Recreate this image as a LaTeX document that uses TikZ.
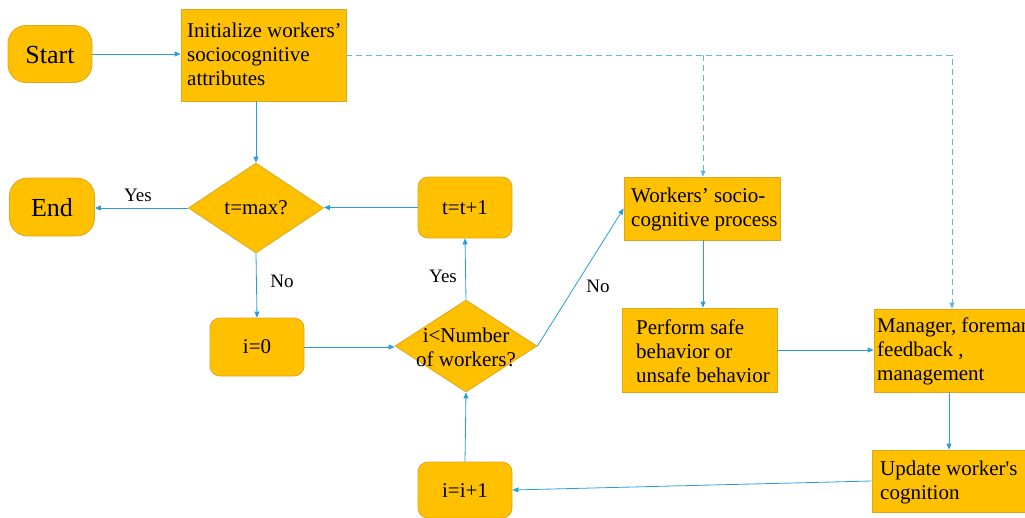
\documentclass[tikz,border=0pt]{standalone}
\usepackage{fontspec}
\setmainfont{Liberation Serif}
\newfontfamily\tnr{Liberation Serif}
\usetikzlibrary{shapes.geometric,arrows.meta}
\definecolor{boxfill}{RGB}{255,192,0}
\definecolor{boxline}{RGB}{222,168,30}
\definecolor{conn}{RGB}{40,158,216}
\definecolor{dconn}{RGB}{95,182,232}
\tikzset{
  box/.style={draw=boxline,fill=boxfill,line width=0.8pt,inner sep=0pt},
  stadium/.style={box,rounded corners=18pt},
  rbox/.style={box,rounded corners=10pt},
  txt/.style={font=\tnr\fontsize{21}{24}\selectfont,align=left,inner sep=0pt,anchor=west},
  ctxt/.style={font=\tnr\fontsize{21}{24}\selectfont,align=center,inner sep=0pt},
  big/.style={font=\tnr\fontsize{26}{30}\selectfont,inner sep=0pt},
  lab/.style={font=\tnr\fontsize{19}{22}\selectfont,inner sep=0pt},
  arr/.style={draw=conn,line width=0.8pt,-{Triangle[length=6pt,width=5pt]}},
  darr/.style={arr,draw=dconn,line width=1pt,dash pattern=on 6pt off 4pt},
}
\begin{document}
\begin{tikzpicture}[x=1pt,y=-1pt]
\useasboundingbox (0,0) rectangle (1025,517);
% shapes
\node[stadium,minimum width=84pt,minimum height=57pt] (start) at (50,54) {};
\node[big] (starttxt) at (50,55) {Start};
\node[box,minimum width=165pt,minimum height=92pt] (init) at (263.5,55) {};
\node[txt] (inittxt) at (187,54) {Initialize workers’\\sociocognitive\\attributes};
\node[stadium,minimum width=85pt,minimum height=58pt] (end) at (52,207) {};
\node[big] (endtxt) at (52,208) {End};
\node[box,diamond,minimum width=135pt,minimum height=90pt] (d1) at (256,208) {};
\node[ctxt] (d1txt) at (256,208) {t=max?};
\node[rbox,minimum width=94pt,minimum height=61pt] (tt) at (465,207.5) {};
\node[ctxt] (tttxt) at (465,208) {t=t+1};
\node[rbox,minimum width=94pt,minimum height=58pt] (i0) at (257,347) {};
\node[ctxt] (i0txt) at (257,347) {i=0};
\node[box,diamond,minimum width=142pt,minimum height=92pt] (d2) at (466,346) {};
\node[ctxt] (d2txt) at (466,347) {i<Number\\of workers?};
\node[rbox,minimum width=94pt,minimum height=56pt] (ii) at (465,490) {};
\node[ctxt] (iitxt) at (465,491) {i=i+1};
\node[box,minimum width=156pt,minimum height=63pt] (work) at (702,208.5) {};
\node[txt] (worktxt) at (631,209) {Workers’ socio-\\cognitive process};
\node[box,minimum width=155pt,minimum height=84pt] (perf) at (699.5,350) {};
\node[txt] (perftxt) at (636,351) {Perform safe\\behavior or\\unsafe behavior};
\node[box,minimum width=156pt,minimum height=83pt] (man) at (952,350.5) {};
\node[txt] (mantxt) at (877,351) {Manager, foreman\\feedback ,\\management};
\node[box,minimum width=158pt,minimum height=62pt] (upd) at (951,481) {};
\node[txt] (updtxt) at (880,482) {Update worker's\\cognition};
% labels
\node[lab] (yes1) at (138,195) {Yes};
\node[lab] (no1) at (282,281) {No};
\node[lab] (yes2) at (443,276) {Yes};
\node[lab] (no2) at (598,286) {No};
% coordinates for routing
\coordinate (c1) at (703,55);
\coordinate (c2) at (952,55);
\coordinate (c3) at (949,0);
% connectors
\draw[arr] (start.east) -- (init.west |- start.east);
\draw[arr] (d1.north |- init.south) -- (d1.north);
\draw[arr] (d1.west) -- (end.east |- d1.west);
\draw[arr] (d1.south) -- (i0.north);
\draw[arr] (i0.east) -- (d2.west |- i0.east);
\draw[arr] (d2.north) -- (tt.south);
\draw[arr] (tt.west) -- (d1.east |- tt.west);
\draw[arr] (d2.east) -- (work.west);
\draw[arr] (c1 |- work.south) -- (c1 |- perf.north);
\draw[arr] (perf.east) -- (man.west |- perf.east);
\draw[arr] (c3 |- man.south) -- (c3 |- upd.north);
\draw[arr] (upd.west) -- (ii.east);
\draw[arr] (ii.north) -- (d2.south);
\draw[darr] (init.east |- c2) -- (c2) -- (c2 |- man.north);
\draw[darr] (c1) -- (c1 |- work.north);
\end{tikzpicture}
\end{document}
